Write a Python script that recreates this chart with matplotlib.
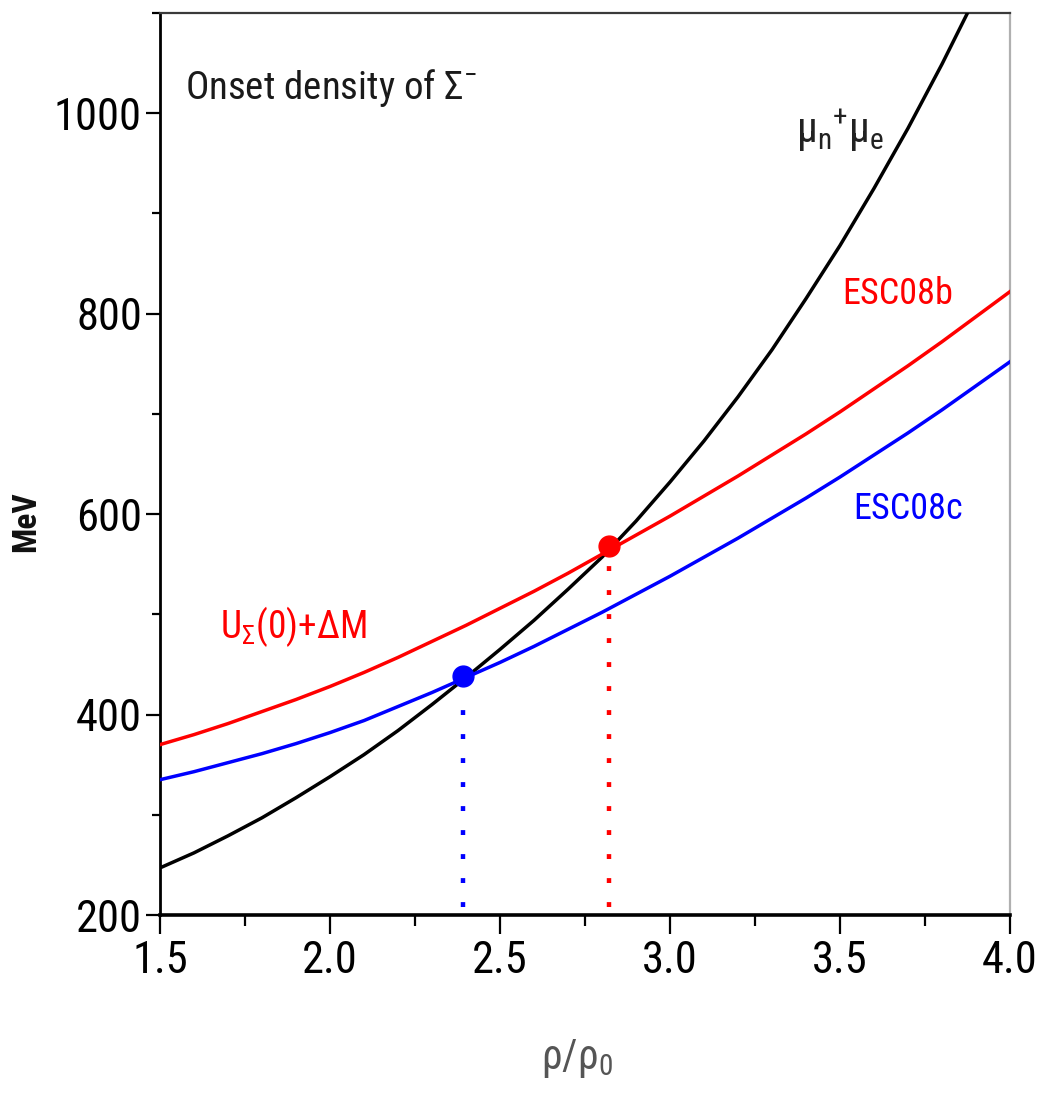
import matplotlib
matplotlib.use("Agg")
import matplotlib.pyplot as plt
from matplotlib import font_manager
from matplotlib.ticker import MultipleLocator

# ---------------- data ----------------
rho = [1.5, 1.6, 1.7, 1.8, 1.9, 2.0, 2.1, 2.2, 2.3, 2.4, 2.5, 2.6, 2.7,
       2.8, 2.9, 3.0, 3.1, 3.2, 3.3, 3.4, 3.5, 3.6, 3.7, 3.8, 3.9, 4.0]
mu_n_mu_e = [247, 262, 279, 297, 317, 338, 360, 384, 410, 437, 465, 494, 525,
             557, 593, 632, 673, 717, 764, 815, 868, 925, 985, 1049, 1117, None]
esc08b = [370, 380, 391, 403, 415, 428, 442, 457, 473, 489, 506, 523, 541,
          560, 579, 598, 618, 638, 659, 680, 702, 725, 748, 772, 797, 822]
esc08c = [335, 343, 352, 361, 371, 382, 394, 408, 422, 437, 452, 468, 485,
          502, 520, 538, 557, 576, 596, 616, 637, 659, 681, 704, 728, 752]
onset_rho = [2.39, 2.82]
onset_mev = [438, 568]
onset_colors = ["#0000ff", "#ff0000"]

xticks = [1.5, 2.0, 2.5, 3.0, 3.5, 4.0]
xticklabels = ["1.5", "2.0", "2.5", "3.0", "3.5", "4.0"]
yticks = [200, 400, 600, 800, 1000]
yticklabels = ["200", "400", "600", "800", "1000"]

# ---------------- fonts ----------------
avail = {f.name for f in font_manager.fontManager.ttflist}
narrow = "DejaVu Sans"
for cand in ["Liberation Sans Narrow", "DejaVu Sans Condensed", "Roboto Condensed",
             "Open Sans Condensed", "Liberation Sans", "Roboto"]:
    if cand in avail:
        narrow = cand
        break
plt.rcParams["font.family"] = [narrow, "DejaVu Sans"]
plt.rcParams["mathtext.fontset"] = "custom"
plt.rcParams["mathtext.rm"] = narrow
plt.rcParams["mathtext.it"] = narrow
plt.rcParams["mathtext.bf"] = narrow
plt.rcParams["mathtext.default"] = "regular"

W, H = 1038, 1096
fig = plt.figure(figsize=(W / 100, H / 100), dpi=100)
ax = fig.add_axes([160 / W, 1 - 915 / H, 850 / W, 902 / H])

xs_b = [x for x, y in zip(rho, mu_n_mu_e) if y is not None]
ys_b = [y for y in mu_n_mu_e if y is not None]
ax.plot(xs_b, ys_b, color="black", lw=2.5, solid_joinstyle="round", zorder=3)
ax.plot(rho, esc08b, color="#ff0000", lw=2.5, solid_joinstyle="round", zorder=3)
ax.plot(rho, esc08c, color="#0000ff", lw=2.5, solid_joinstyle="round", zorder=3)

for x, y, c in zip(onset_rho, onset_mev, onset_colors):
    ax.plot([x, x], [208, y - 14], color=c, lw=3.2, dashes=(1.1, 4.3), zorder=2)
    ax.plot([x], [y], marker="o", ms=15, color=c, mec=c, zorder=5)

ax.set_xlim(1.5, 4.0)
ax.set_ylim(200, 1100)
ax.set_xticks(xticks)
ax.set_xticklabels(xticklabels)
ax.set_yticks(yticks)
ax.set_yticklabels(yticklabels)
ax.xaxis.set_minor_locator(MultipleLocator(0.25))
ax.yaxis.set_minor_locator(MultipleLocator(100))
ax.tick_params(axis="x", which="major", direction="out", length=14, width=1.6,
               labelsize=32, pad=4, colors="black")
ax.tick_params(axis="x", which="minor", direction="out", length=8, width=1.6)
ax.tick_params(axis="y", which="major", direction="out", length=10, width=1.6,
               labelsize=32, pad=3)
ax.tick_params(axis="y", which="minor", direction="out", length=6, width=1.6)

ax.spines["left"].set_linewidth(2.0)
ax.spines["bottom"].set_linewidth(2.6)
ax.spines["top"].set_linewidth(1.6)
ax.spines["top"].set_color("#3a3a3a")
ax.spines["right"].set_linewidth(1.6)
ax.spines["right"].set_color("#b0b0b0")

ax.text(1.574, 1025, r"Onset density of $\Sigma^{-}$", fontsize=28,
        color="#1a1a1a", va="center", ha="left")
ax.text(3.37, 983, r"$\mu_{n}{}^{+}\mu_{e}$", fontsize=30, color="#222222",
        va="center", ha="left")
ax.text(3.506, 820, "ESC08b", fontsize=26, color="#ff0000", va="center", ha="left")
ax.text(3.538, 605, "ESC08c", fontsize=26, color="#0000ff", va="center", ha="left")
ax.text(1.676, 488, r"$U_{\Sigma}(0){+}\Delta M$", fontsize=27, color="#ff0000",
        va="center", ha="left")

fig.text(26 / W, 1 - 522 / H, "MeV", rotation=90, fontsize=24, fontweight="bold",
         ha="center", va="center", color="#111111")
fig.text(577 / W, 1 - 1058 / H, r"$\rho/\rho_{0}$", fontsize=30, ha="center",
         va="center", color="#555555")

fig.savefig("out.png", dpi=100)
